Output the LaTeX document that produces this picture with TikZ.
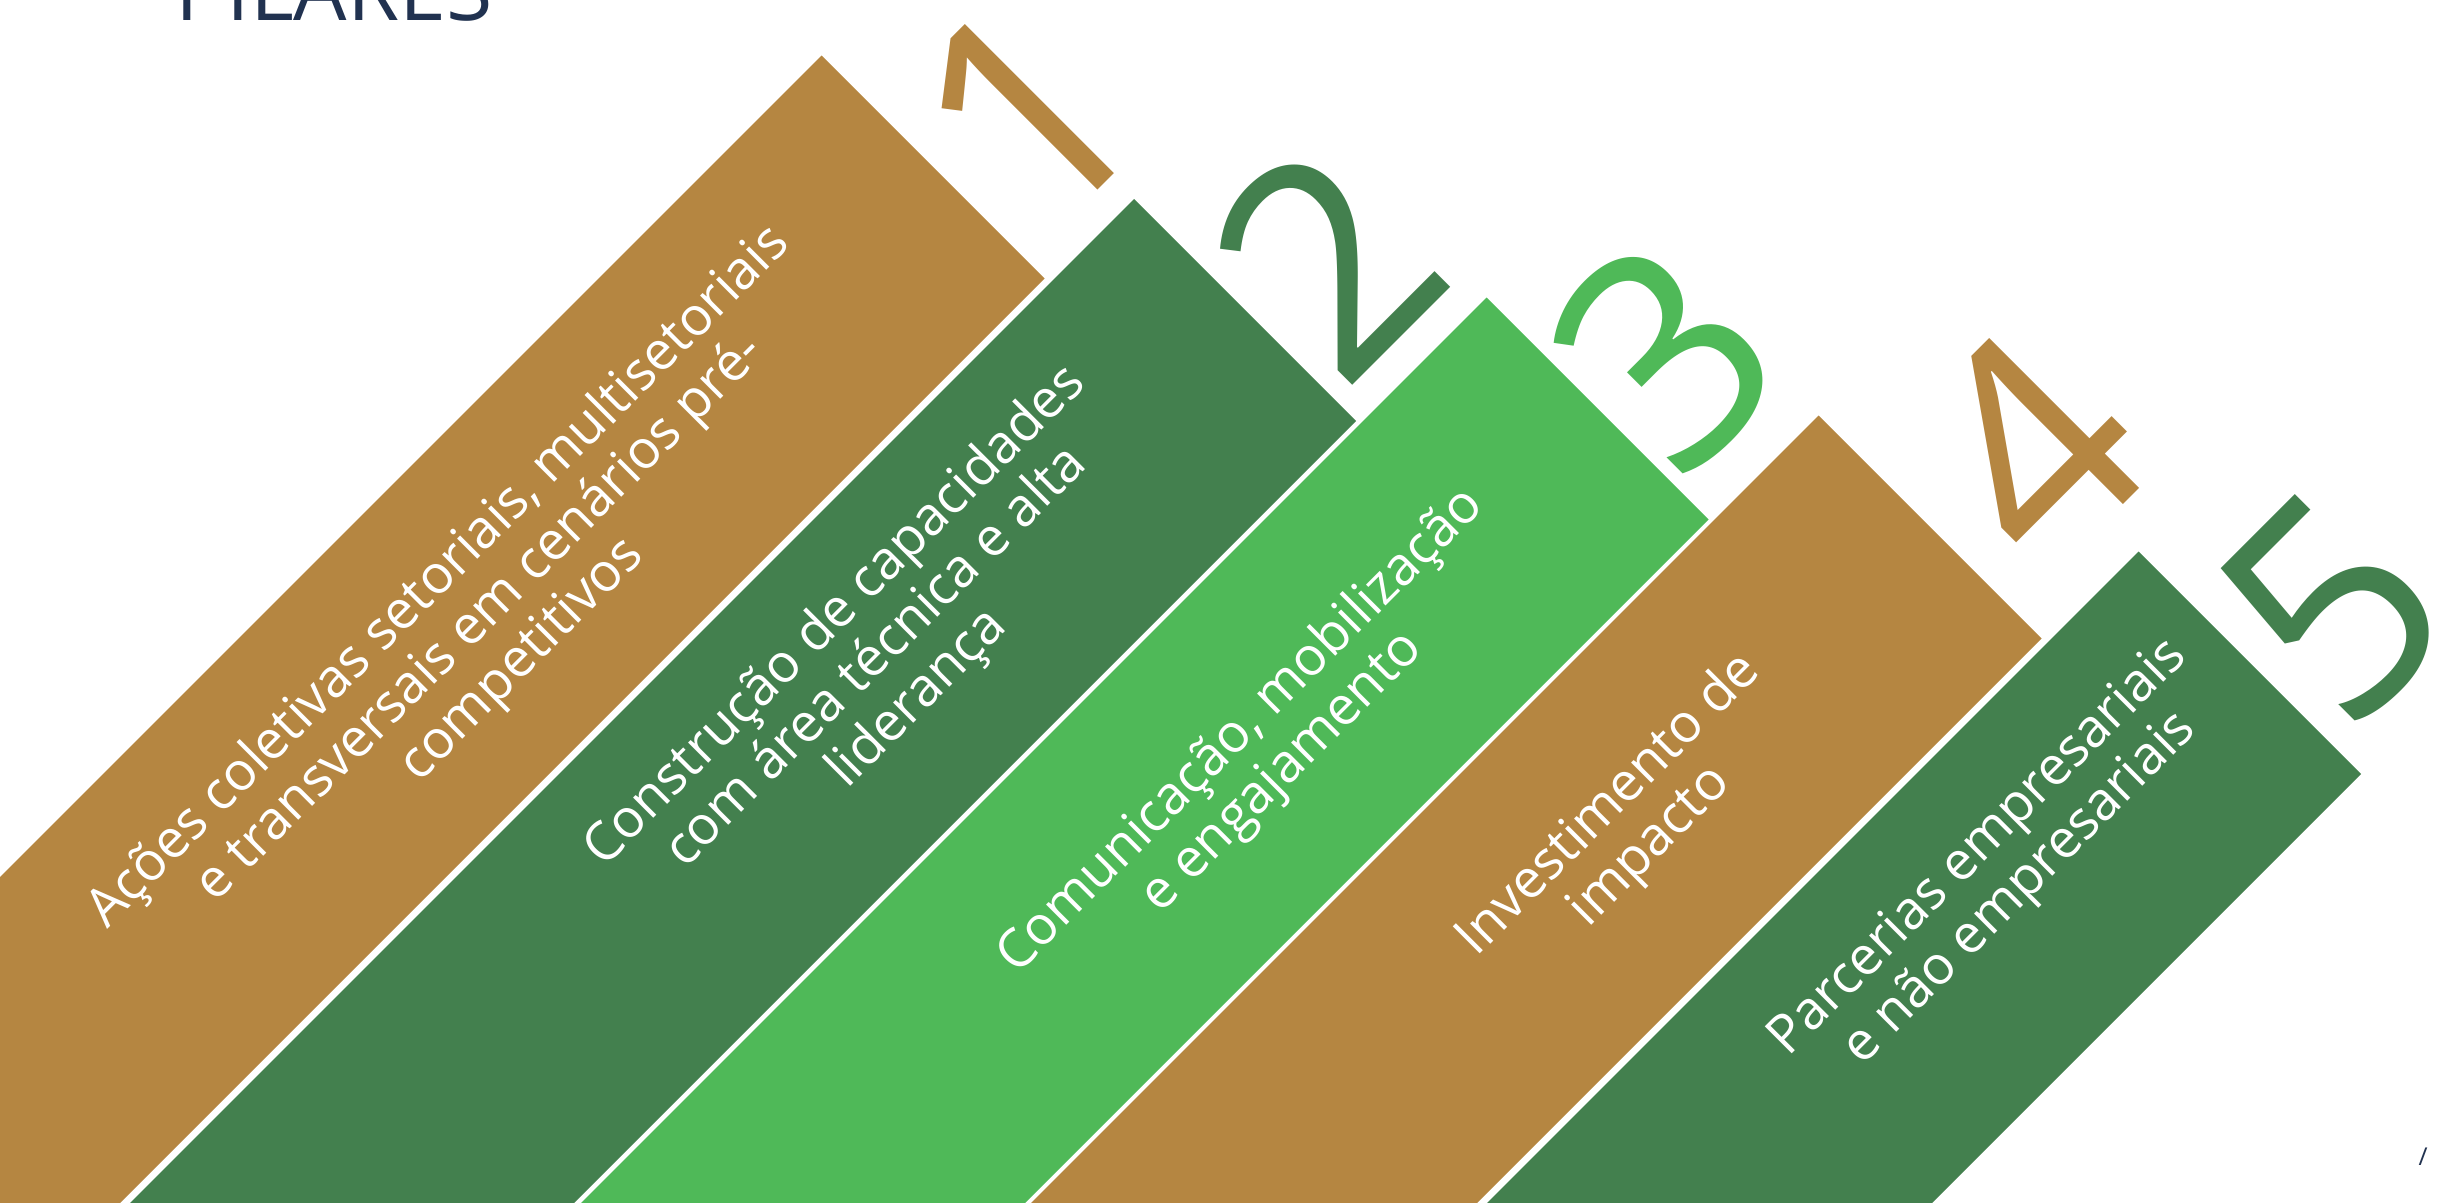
\documentclass[tikz,border=0pt]{standalone}
\usepackage{fontspec}
\setmainfont{Open Sans}
\usetikzlibrary{calc}

\definecolor{pilarbrown}{RGB}{181,134,65}
\definecolor{pilardark}{RGB}{67,128,78}
\definecolor{pilarlight}{RGB}{79,185,88}
\definecolor{pilarnavy}{RGB}{33,50,80}

\tikzset{
	pilartext/.style={text=white, rotate=45, align=center, inner sep=0pt,
		font=\fontsize{15.2}{16.6}\selectfont},
	pilarnum/.style={rotate=45, inner sep=0pt, font=\fontsize{84}{84}\selectfont},
}

\begin{document}
\begin{tikzpicture}[x=0.01cm, y=-0.01cm]

	\useasboundingbox (0,0) rectangle (2440,1202);
	\clip (0,0) rectangle (2440,1202);
	\fill[white] (0,0) rectangle (2440,1202);

	\def\far{1500} % bands run off to the lower left

	% top and right corner of each band
	\coordinate (T1) at (821.5,55.5);  \coordinate (R1) at (1044.5,278.5);
	\coordinate (T2) at (1134,199);    \coordinate (R2) at (1356,421);
	\coordinate (T3) at (1486.5,297.5); \coordinate (R3) at (1708.5,519.5);
	\coordinate (T4) at (1818.5,415.5); \coordinate (R4) at (2041.5,638.5);
	\coordinate (T5) at (2138.5,551.5); \coordinate (R5) at (2361,774);

	% bands
	\fill[pilarbrown] (T1) -- (R1) -- ($(R1)+(-\far,\far)$) -- ($(T1)+(-\far,\far)$) -- cycle;
	\fill[pilardark]  (T2) -- (R2) -- ($(R2)+(-\far,\far)$) -- ($(T2)+(-\far,\far)$) -- cycle;
	\fill[pilarlight] (T3) -- (R3) -- ($(R3)+(-\far,\far)$) -- ($(T3)+(-\far,\far)$) -- cycle;
	\fill[pilarbrown] (T4) -- (R4) -- ($(R4)+(-\far,\far)$) -- ($(T4)+(-\far,\far)$) -- cycle;
	\fill[pilardark]  (T5) -- (R5) -- ($(R5)+(-\far,\far)$) -- ($(T5)+(-\far,\far)$) -- cycle;

	% texts on the bands
	\node[pilartext] (acoes) at (481,619)
	{Ações coletivas setoriais, multisetoriais\\e transversais em cenários pré-\\competitivos};
	\node[pilartext] (capacidades) at (877,658)
	{Construção de capacidades\\com área técnica e alta\\liderança};
	\node[pilartext] (comunicacao) at (1262,752)
	{Comunicação, mobilização\\e engajamento};
	\node[pilartext] (investimento) at (1630,826)
	{Investimento de\\impacto};
	\node[pilartext] (parcerias) at (2000,869)
	{Parcerias empresariais\\e não empresariais};

	% numbers
	\node[pilarnum, pilarbrown] (n1) at (1027,112) {1};
	\node[pilarnum, pilardark]  (n2) at (1327,260) {2};
	\node[pilarnum, pilarlight] (n3) at (1665,355) {3};
	\node[pilarnum, pilarbrown] (n4) at (2031,447) {4};
	\node[pilarnum, pilardark]  (n5) at (2334,607) {5};

	% title and page mark
	\node[pilarnavy, anchor=base west, inner sep=0pt, font=\fontsize{24}{24}\selectfont]
	(titulo) at (175,20) {PILARES};
	\node[pilarnavy, inner sep=0pt, font=\fontsize{7}{7}\selectfont] (pagina) at (2423,1157) {/};

\end{tikzpicture}
\end{document}
